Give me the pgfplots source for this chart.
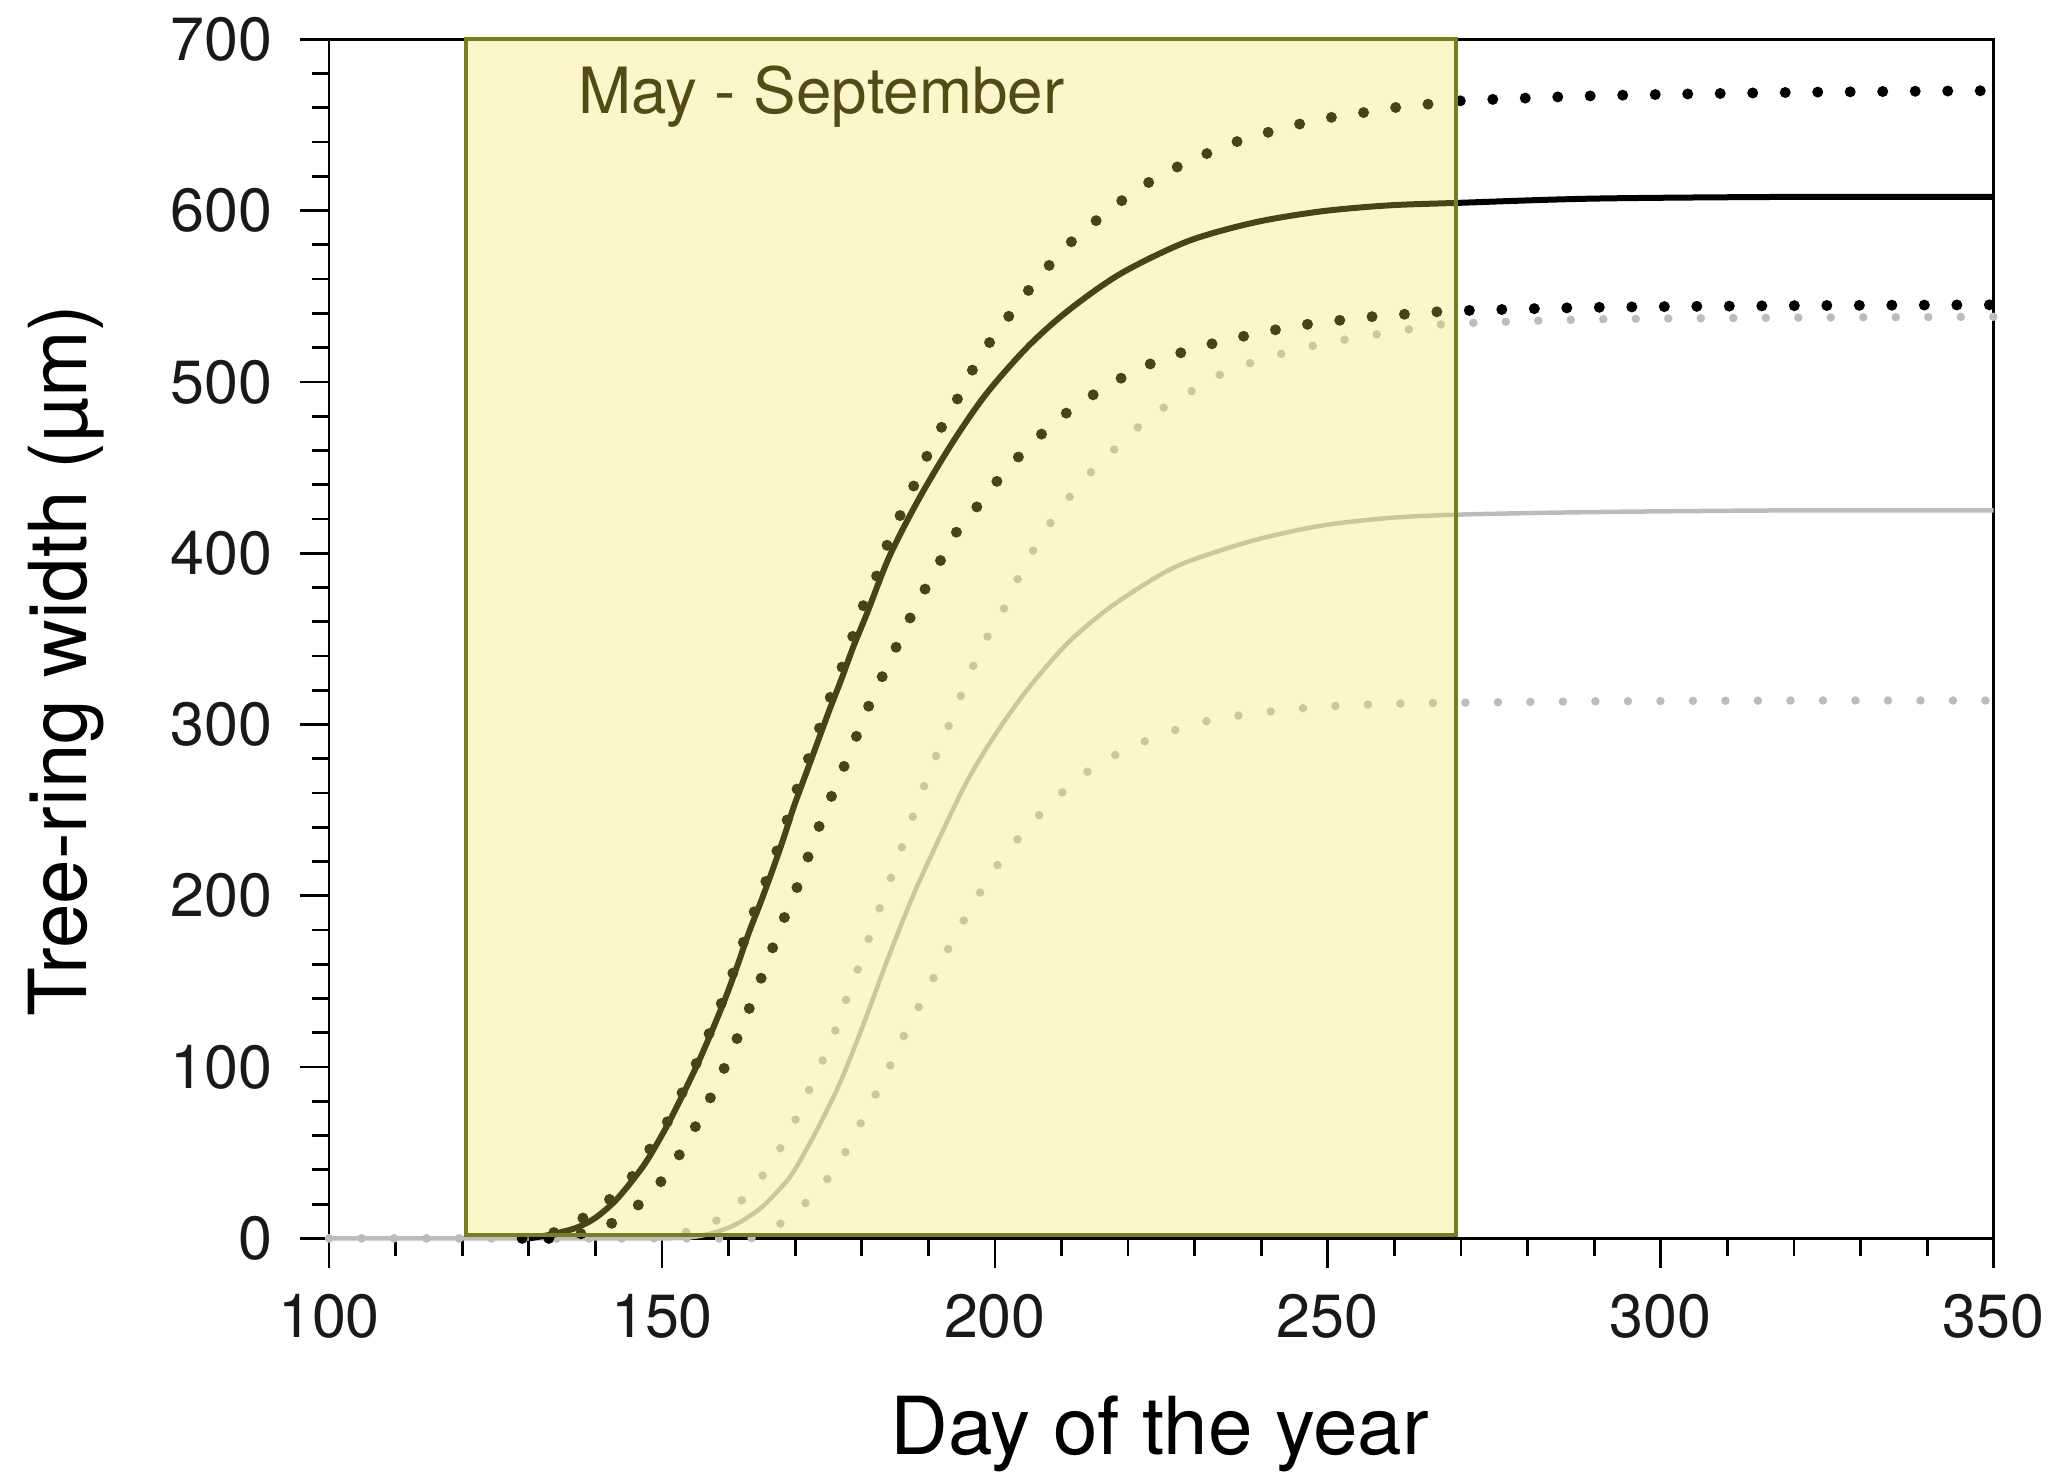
\documentclass[border=0pt]{standalone}
\usepackage{fontspec}
\setmainfont{TeX Gyre Heros}
\usepackage{pgfplots}
\pgfplotsset{compat=1.18}
\definecolor{lgray}{RGB}{188,188,188}
\definecolor{boxfill}{RGB}{245,226,80}
\definecolor{boxedge}{RGB}{120,126,30}
\definecolor{boxtext}{RGB}{82,76,20}
\tikzset{
  blackdots/.style={black, line width=2.2pt, dash pattern=on 0pt off 6.5pt, line cap=round, line join=round, smooth, tension=0.5},
  graydots/.style={lgray, line width=1.7pt, dash pattern=on 0pt off 6.5pt, line cap=round, line join=round, smooth, tension=0.5},
}
\begin{document}
\begin{tikzpicture}
\begin{axis}[
  name=ax,
  scale only axis,
  width=332.9pt, height=239.8pt,
  xmin=100, xmax=350, ymin=0, ymax=700,
  xtick={100,150,...,350}, ytick={0,100,...,700},
  minor x tick num=4, minor y tick num=4,
  tick align=outside,
  major tick length=5.9pt, minor tick length=3.5pt,
  xtick pos=bottom, ytick pos=left,
  axis line style={black, line width=0.55pt},
  every tick/.style={black, line width=0.55pt},
  /pgf/number format/assume math mode=true,
  /pgf/number format/set thousands separator={},
  tick label style={font=\fontsize{12.2}{14}\selectfont, text=black!90},
  yticklabel style={anchor=east, inner sep=0pt, xshift=-5.3pt},
  xticklabel style={anchor=north, inner sep=0pt, yshift=-5pt},
  xlabel={Day of the year},
  ylabel={Tree-ring width (µm)},
  every axis x label/.style={at={(axis description cs:0.499,-0.1806)}, anchor=base, font=\fontsize{16}{18}\selectfont},
  every axis y label/.style={at={(axis description cs:-0.1454,0.482)}, anchor=base, rotate=90, font=\fontsize{16}{18}\selectfont},
  clip=false,
]
% gray dotted (right)
\addplot[graydots] table {
100 0
130 0
155 0
163 0
165 2.5
168.6 10.8
173.1 26.5
176.7 44.8
179.4 64
182.0 83.4
184.4 102
186.7 121.3
189.2 140
191.7 159
194.2 178
197.0 196.7
200.0 215.8
203.8 234.8
208.3 253.6
213.0 270
217.8 281.6
222.8 290.7
227.7 297.5
232.6 302.7
237.6 305.8
242.4 308
247.2 309.8
252.3 311
257.0 311.8
262.0 312.3
266.8 312.6
290 313.5
320 314
350 314
};
% gray solid
\addplot[lgray, line width=0.9pt, line join=round, smooth, tension=0.5] table {
100 0
130 0
150 0
155 1
158.6 4.3
161.5 9
164.6 17
167 26
169.6 38
173.1 62
176.7 90.5
180.2 124.4
183.7 161
187.7 200
191.7 234
195.7 266
199.7 292
204.8 320
210.8 347
216.8 367
223.8 385
228.9 395
238.9 407.5
248.9 416
259.0 420.5
269.5 422.5
290 424
320 425
350 425
};
% gray dotted (left)
\addplot[graydots] table {
100 0
125 0
145 0
150 1
154.1 4.3
158.9 12
163.4 28
166.9 47
169.6 65.7
171.9 85
174.1 103.5
176.1 122
177.9 142
179.7 160
181.5 180
183.2 198
185.0 217
186.7 236
188.5 255
190.4 274.5
192.4 293
194.4 312
196.5 332
198.7 350
201.4 368
203.8 388
206.8 408.4
210.0 426.8
214.0 445.6
218.8 463.8
223.6 480.5
228.7 492.6
233.4 503.5
238.2 510.8
243.2 516.6
247.9 521.2
253.0 525
257.8 528
262.8 531
268.0 533.8
290 536.5
320 537.5
350 538
};
% black dotted (lower)
\addplot[blackdots] table {
133 0
137 2
140.5 6
144.3 12.6
149.1 29.6
152.6 48.7
155.4 68
157.9 87
160.1 106
162.1 124.4
164.1 144
166.0 163
167.8 182
169.8 200
171.6 219
173.4 238.5
175.4 257.5
177.4 276
179.4 295
181.4 314
183.7 333
186.0 352
188.4 371
191.2 391
193.9 410.5
197.7 429
201.6 448
206.3 467
211.0 482.6
215.8 495
220.8 506
225.6 514
230.5 520
235.4 525
240.4 529
245.2 532.7
249.9 535
255.0 537.5
259.8 539
264.8 540.4
269.5 541.5
290 543.5
320 544.5
350 545
};
% black dotted (upper)
\addplot[blackdots] table {
129 0
132 1
135 5.6
139 14
144.3 30
147.8 50
150.8 68
153.4 88
155.6 106
157.6 124.5
159.6 144
161.4 163
163.0 182
164.8 200
166.6 219
168.3 238
169.8 257
171.6 276
173.4 295
175.1 314
177.0 333
178.7 352
180.4 371
182.7 391
184.2 409
186.5 428
188.7 447
190.9 466
193.7 485
196.2 504
199.2 523
202.8 542
206.6 561
211.0 580
215.8 596
220.9 611
225.6 622
230.5 631
235.4 639
240.4 645
245.2 650
249.9 654
255.0 657
259.8 660
264.8 662
269.5 664
290 667
320 669
350 670
};
% black solid
\addplot[black, line width=1.2pt, line join=round, smooth, tension=0.5] table {
130 0
133 2
137 6
140 12
143 22
146 36
148 47
150.8 66
153.4 86
155.6 104
157.6 122
159.6 141
161.4 160
163.0 178
164.8 196
166.6 215
168.3 234
169.8 252
171.6 271
173.4 290
175.1 308
177.0 327
178.7 345
180.7 364
184.2 398.5
188.7 432.5
193.7 465
198.7 493
204.8 520
210.8 541
218.8 563
228.9 582
238.9 593
248.9 599.5
259.0 603
269.5 604.5
290 607
320 608
350 608
};
% May - September overlay
\fill[boxfill, fill opacity=0.3] (axis cs:120.5,1.8) rectangle (axis cs:269.3,700);
\draw[boxedge, line width=0.8pt] (axis cs:120.5,1.8) rectangle (axis cs:269.3,700);
\node[anchor=base west, inner sep=0pt, text=boxtext, font=\fontsize{12.75}{14}\selectfont] at (axis cs:137.3,656.7) {May - September};
\end{axis}
\pgfresetboundingbox
\path ([shift={(-65.8pt,-46.94pt)}]ax.south west) rectangle ([shift={(14.66pt,7.86pt)}]ax.north east);
\end{tikzpicture}
\end{document}
